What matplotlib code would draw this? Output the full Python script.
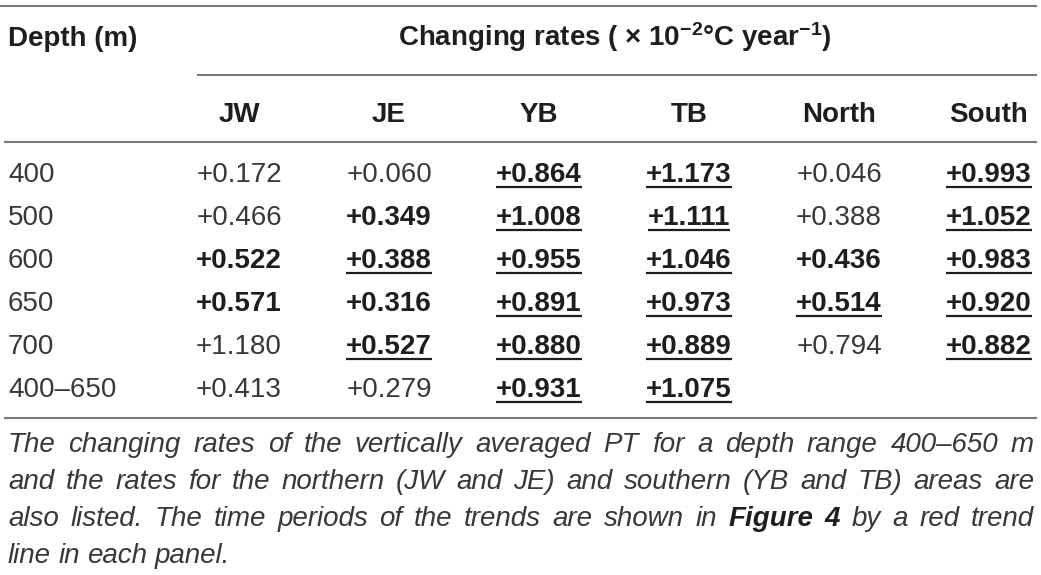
import matplotlib
matplotlib.use("Agg")
import matplotlib.pyplot as plt

plt.rcParams['font.family'] = ['Liberation Sans', 'DejaVu Sans']
plt.rcParams['mathtext.default'] = 'regular'

# Données du tableau
depths = ['400', '500', '600', '650', '700', '400–650']
regions = ['JW', 'JE', 'YB', 'TB', 'North', 'South']
jw = [0.172, 0.466, 0.522, 0.571, 1.180, 0.413]
je = [0.060, 0.349, 0.388, 0.316, 0.527, 0.279]
yb = [0.864, 1.008, 0.955, 0.891, 0.880, 0.931]
tb = [1.173, 1.111, 1.046, 0.973, 0.889, 1.075]
north = [0.046, 0.388, 0.436, 0.514, 0.794, None]
south = [0.993, 1.052, 0.983, 0.920, 0.882, None]
# 0 = normal, 1 = gras, 2 = gras souligné
jw_style = [0, 0, 1, 1, 0, 0]
je_style = [0, 1, 2, 1, 2, 0]
yb_style = [2, 2, 2, 2, 2, 2]
tb_style = [2, 2, 2, 2, 2, 2]
north_style = [0, 0, 1, 2, 0, 0]
south_style = [2, 2, 2, 2, 2, 0]

title = 'Changing rates ( × 10$^{-2}$°C year$^{-1}$)'
caption = [
    [('The', 0), ('changing', 0), ('rates', 0), ('of', 0), ('the', 0), ('vertically', 0),
     ('averaged', 0), ('PT', 0), ('for', 0), ('a', 0), ('depth', 0), ('range', 0),
     ('400–650', 0), ('m', 0)],
    [('and', 0), ('the', 0), ('rates', 0), ('for', 0), ('the', 0), ('northern', 0),
     ('(JW', 0), ('and', 0), ('JE)', 0), ('and', 0), ('southern', 0), ('(YB', 0),
     ('and', 0), ('TB)', 0), ('areas', 0), ('are', 0)],
    [('also', 0), ('listed.', 0), ('The', 0), ('time', 0), ('periods', 0), ('of', 0),
     ('the', 0), ('trends', 0), ('are', 0), ('shown', 0), ('in', 0), ('Figure', 1),
     ('4', 1), ('by', 0), ('a', 0), ('red', 0), ('trend', 0)],
    [('line', 0), ('in', 0), ('each', 0), ('panel.', 0)],
]

columns = [jw, je, yb, tb, north, south]
styles = [jw_style, je_style, yb_style, tb_style, north_style, south_style]

fig = plt.figure(figsize=(10.41, 5.75), dpi=100)
ax = fig.add_axes([0, 0, 1, 1])
ax.set_xlim(0, 1041)
ax.set_ylim(575, 0)
ax.axis('off')

fs = 20
txt = '#1e1e1e'
light = '#383838'
rule = '#7a7a7a'
col_x = [239, 389, 539, 689, 839, 989]
row_base = [182, 225, 268, 311, 354, 397]

# Filets
ax.plot([0, 1036], [6, 6], color=rule, lw=1.5)
ax.plot([198, 1036], [75, 75], color=rule, lw=1.5)
ax.plot([5, 1036], [142, 142], color=rule, lw=1.5)
ax.plot([5, 1036], [418, 418], color=rule, lw=1.5)

# En-têtes
ax.text(8, 46, 'Depth (m)', fontsize=fs, fontweight='bold', color=txt, va='baseline')
ax.text(615, 46, title, fontsize=fs, fontweight='bold', color=txt, ha='center', va='baseline')
for x, r in zip(col_x, regions):
    ax.text(x, 122, r, fontsize=fs, fontweight='bold', color=txt, ha='center', va='baseline')

fig.canvas.draw()
renderer = fig.canvas.get_renderer()
inv = ax.transData.inverted()

for y, d in zip(row_base, depths):
    ax.text(8, y, d, fontsize=fs, color=light, va='baseline')

for x, vals, sts in zip(col_x, columns, styles):
    for y, v, s in zip(row_base, vals, sts):
        if v is None:
            continue
        t = ax.text(x, y, '+%.3f' % v, fontsize=fs, ha='center', va='baseline',
                    color=txt if s > 0 else light,
                    fontweight='bold' if s > 0 else 'normal')
        if s == 2:
            bb = t.get_window_extent(renderer)
            (x0, _), (x1, _) = inv.transform([[bb.x0, bb.y0], [bb.x1, bb.y1]])
            ax.plot([x0, x1], [y + 5, y + 5], color=txt, lw=1.6, solid_capstyle='butt')

# Légende justifiée
cap_base = [452, 489, 526, 563]
left, right = 8, 1034
for i, (words, y) in enumerate(zip(caption, cap_base)):
    objs = []
    for w, b in words:
        objs.append(ax.text(0, y, w, fontsize=fs, style='italic', va='baseline',
                            color=txt if b else light,
                            fontweight='bold' if b else 'normal'))
    widths = []
    for o in objs:
        bb = o.get_window_extent(renderer)
        (a, _), (c, _) = inv.transform([[bb.x0, bb.y0], [bb.x1, bb.y1]])
        widths.append(c - a)
    if i < len(caption) - 1:
        gap = (right - left - sum(widths)) / (len(objs) - 1)
    else:
        gap = 7.5
    x = left
    for o, w in zip(objs, widths):
        o.set_x(x)
        x += w + gap

fig.savefig('out.png', dpi=100)
